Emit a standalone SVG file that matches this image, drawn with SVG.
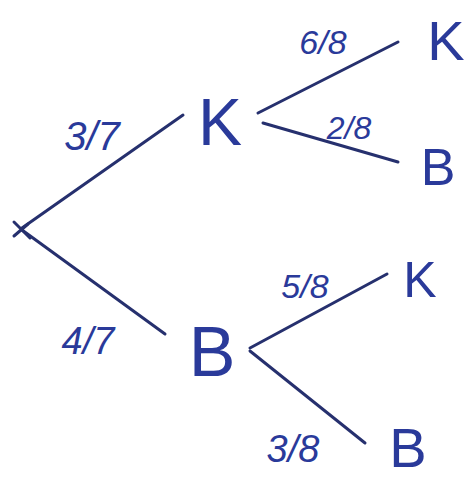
<svg xmlns="http://www.w3.org/2000/svg" width="476" height="482" viewBox="0 0 476 482">
<style>
.bg{fill:#ffffff}
.edge{stroke:#26306e;stroke-width:3;stroke-linecap:round;fill:none}
.lbl{font-family:"Liberation Sans",Arial,sans-serif;fill:#2a3a9a;text-anchor:middle;font-style:italic}
.node{font-family:"Liberation Sans",Arial,sans-serif;fill:#2a3a9a;text-anchor:middle}
</style>
<rect class="bg" x="0" y="0" width="476" height="482"/>
<g id="connectors">
<path class="edge" d="M22 228 L183 115"/>
<path class="edge" d="M22 230 L165 334"/>
<path class="edge" d="M258 113 L398 42"/>
<path class="edge" d="M263 123 L398 162"/>
<path class="edge" d="M250 348 L387 274"/>
<path class="edge" d="M250 351 L365 443"/>
<text class="lbl" x="92" y="150" font-size="40">3/7</text>
<text class="lbl" x="88" y="354" font-size="38">4/7</text>
<text class="lbl" x="323" y="54" font-size="34">6/8</text>
<text class="lbl" x="349" y="139" font-size="32">2/8</text>
<text class="lbl" x="305" y="298" font-size="34">5/8</text>
<text class="lbl" x="293" y="462" font-size="38">3/8</text>
</g>
<g id="root"><path class="edge" d="M14 222 L30 238 M14 236 L28 224"/></g>
<g id="nK"><text class="node" x="220" y="145" font-size="66">K</text></g>
<g id="nB"><text class="node" x="212" y="376" font-size="70">B</text></g>
<g id="nKK"><text class="node" x="446" y="60" font-size="56">K</text></g>
<g id="nKB"><text class="node" x="438" y="185" font-size="52">B</text></g>
<g id="nBK"><text class="node" x="420" y="297" font-size="50">K</text></g>
<g id="nBB"><text class="node" x="408" y="467" font-size="56">B</text></g>
</svg>
